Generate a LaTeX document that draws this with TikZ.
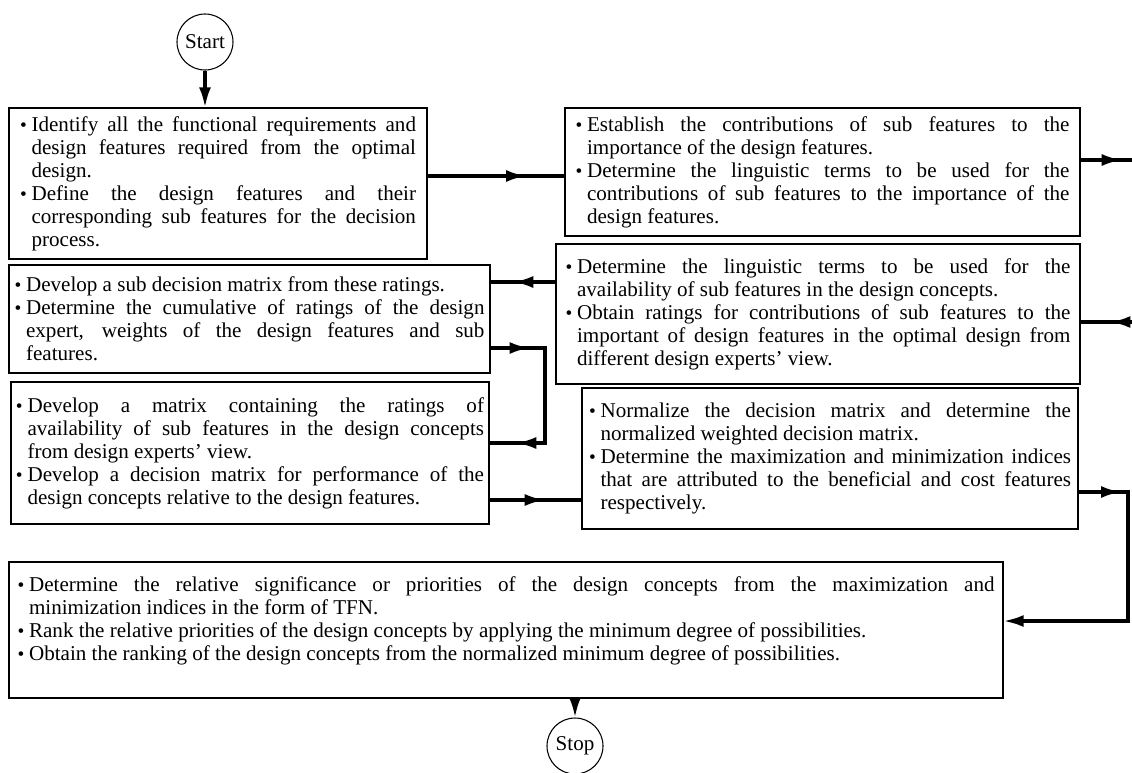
\documentclass[tikz,border=0pt]{standalone}
\usepackage{fontspec}
\setmainfont{Liberation Serif}
\usetikzlibrary{arrows.meta,decorations.markings}
\tolerance=10000 \hbadness=10000 \hyphenpenalty=10000 \exhyphenpenalty=10000

\newcommand{\bitem}[1]{\noindent\hangindent=0.55em\hangafter=1%
  \makebox[0.55em][l]{\fontsize{14.5}{14.5}\selectfont\textbullet}#1\par}

\tikzset{
  stepbox/.style={draw, line width=1pt, align=justify, inner sep=2pt,
    font=\fontsize{15.8}{17.3}\selectfont},
  endcircle/.style={draw, circle, line width=0.8pt, minimum size=42pt, inner sep=0pt,
    font=\fontsize{15.8}{17.3}\selectfont},
  flow/.style={line width=2.3pt},
  endarr/.style={-{Latex[length=15pt,width=9pt]}},
  midarr/.style={postaction={decorate, decoration={markings,
    mark=at position #1 with {\arrow{Latex[length=15pt,width=9pt]}}}}}
}

\begin{document}
\begin{tikzpicture}[x=0.75pt,y=-0.75pt]
\useasboundingbox (0,0) rectangle (1132,772);

% start and stop
\node[endcircle] (start) at (205,42) {Start};
\node[endcircle] (stop) at (575,746) {Stop};

% steps
\node[stepbox, minimum width=313.5pt, minimum height=113.25pt, text width=297pt] (b1) at (218,183.5) {%
\bitem{Identify all the functional requirements and\linebreak design features required from the optimal\linebreak design.}
\bitem{Define the design features and their\linebreak corresponding sub features for the decision\linebreak process.}};
\node[stepbox, minimum width=386.25pt, minimum height=96pt, text width=370.5pt] (b2) at (822.5,172) {%
\bitem{Establish the contributions of sub features to the\linebreak importance of the design features.}
\bitem{Determine the linguistic terms to be used for the\linebreak contributions of sub features to the importance of the\linebreak design features.}};
\node[stepbox, minimum width=393pt, minimum height=105pt, text width=378.75pt] (b3) at (818,314) {%
\bitem{Determine the linguistic terms to be used for the\linebreak availability of sub features in the design concepts.}
\bitem{Obtain ratings for contributions of sub features to the\linebreak important of design features in the optimal design from\linebreak different design experts’ view.}};
\node[stepbox, minimum width=360.75pt, minimum height=81pt, text width=352.5pt] (b4) at (249.5,319) {%
\bitem{Develop a sub decision matrix from these ratings.}
\bitem{Determine the cumulative of ratings of the design\linebreak expert, weights of the design features and sub\linebreak features.}};
\node[stepbox, minimum width=358.5pt, minimum height=106.5pt, text width=351pt] (b5) at (250,453) {%
\bitem{Develop a matrix containing the ratings of\linebreak availability of sub features in the design concepts\linebreak from design experts’ view.}
\bitem{Develop a decision matrix for performance of the\linebreak design concepts relative to the design features.}};
\node[stepbox, minimum width=372pt, minimum height=105.75pt, text width=361.5pt] (b6) at (830,458.5) {%
\bitem{Normalize the decision matrix and determine the\linebreak normalized weighted decision matrix.}
\bitem{Determine the maximization and minimization indices\linebreak that are attributed to the beneficial and cost features\linebreak respectively.}};
\node[stepbox, minimum width=745.5pt, minimum height=102pt, text width=732.75pt] (b7) at (506,630) {%
\bitem{Determine the relative significance or priorities of the design concepts from the maximization and\linebreak minimization indices in the form of TFN.}
\bitem{Rank the relative priorities of the design concepts by applying the minimum degree of possibilities.}
\bitem{Obtain the ranking of the design concepts from the normalized minimum degree of possibilities.}
\hrule height 14pt width 0pt};

% arrow levels
\coordinate (a12) at (0,176);
\coordinate (e2) at (1132,160);
\coordinate (e3) at (1132,322);
\coordinate (a34) at (0,282);
\coordinate (k1) at (545,348);
\coordinate (k2) at (545,443);
\coordinate (a56) at (0,500);
\coordinate (k3) at (1128,492);
\coordinate (k4) at (1128,621);

\draw[flow, endarr] (start) -- (start |- b1.north);
\draw[flow, midarr=0.72] (b1.east |- a12) -- (b2.west |- a12);
\draw[flow, midarr=0.8] (b2.east |- e2) -- (e2);
\draw[flow, midarr=0.42] (e3) -- (b3.east |- e3);
\draw[flow, midarr=0.65] (b3.west |- a34) -- (b4.east |- a34);
\draw[flow, midarr=0.19, midarr=0.87] (b4.east |- k1) -- (k1) -- (k2) -- (b5.east |- k2);
\draw[flow, midarr=0.6] (b5.east |- a56) -- (b6.west |- a56);
\draw[flow, midarr=0.14, endarr] (b6.east |- k3) -- (k3) -- (k4) -- (b7.east |- k4);
\draw[flow, endarr] (b7.south -| stop) -- (stop);
\end{tikzpicture}
\end{document}
